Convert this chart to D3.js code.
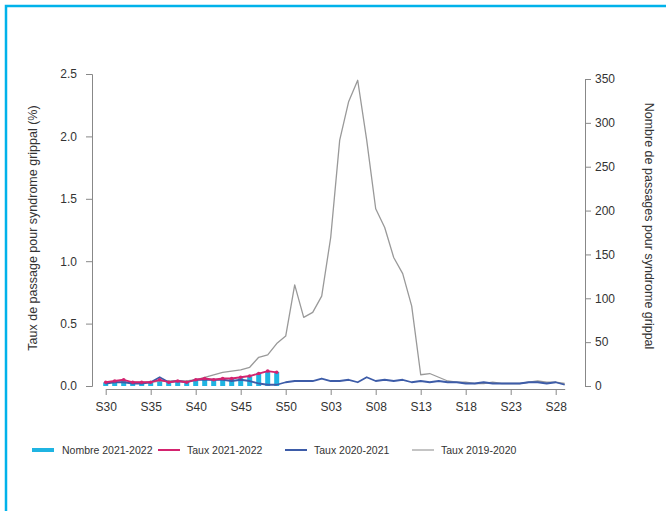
<!DOCTYPE html>
<head>
<meta charset="utf-8">
<script src="https://d3js.org/d3.v7.min.js"></script>
<style>
    body { margin: 0; background: #fff; }
    svg { font-family: "Liberation Sans", Arial, sans-serif; }
    .axis path, .axis line { stroke: #888; }
    .axis text { fill: #333; font-size: 12px; }
    .title { fill: #333; font-size: 12.5px; }
    .legend text { fill: #333; font-size: 10.5px; }
</style>
</head>
<body>
<svg id="chart"></svg>
<script>
    // weeks S30 (2021) -> S29 (2022)
    var weeks = ["S30","S31","S32","S33","S34","S35","S36","S37","S38","S39","S40","S41","S42","S43","S44","S45","S46","S47","S48","S49","S50","S51","S52",
        "S01","S02","S03","S04","S05","S06","S07","S08","S09","S10","S11","S12","S13","S14","S15","S16","S17","S18","S19","S20","S21","S22","S23","S24","S25","S26","S27","S28","S29"];
    var tickWeeks = ["S30","S35","S40","S45","S50","S03","S08","S13","S18","S23","S28"];

    // Nombre 2021-2022 (right axis), S30 -> S49
    var nombre2122 = [4, 5, 6, 5, 4, 4, 6, 5, 6, 5, 7, 8, 8, 8, 9, 9, 11, 15, 17, 16];
    // Taux 2021-2022 (%), S30 -> S49
    var taux2122 = [0.03, 0.04, 0.05, 0.03, 0.03, 0.03, 0.05, 0.03, 0.04, 0.03, 0.05, 0.06, 0.05, 0.06, 0.06, 0.07, 0.08, 0.10, 0.12, 0.11];
    // Taux 2020-2021 (%)
    var taux2021 = [0.02, 0.03, 0.03, 0.02, 0.02, 0.03, 0.07, 0.03, 0.04, 0.03, 0.05, 0.05, 0.05, 0.05, 0.04, 0.05, 0.04, 0.02, 0.01, 0.01, 0.03, 0.04, 0.04,
        0.04, 0.06, 0.04, 0.04, 0.05, 0.03, 0.07, 0.04, 0.05, 0.04, 0.05, 0.03, 0.04, 0.03, 0.04, 0.03, 0.03, 0.02, 0.02, 0.03, 0.02, 0.02, 0.02, 0.02, 0.03, 0.03, 0.02, 0.03, 0.01];
    // Taux 2019-2020 (%)
    var taux1920 = [0.03, 0.03, 0.03, 0.03, 0.03, 0.03, 0.04, 0.04, 0.04, 0.04, 0.05, 0.07, 0.09, 0.11, 0.12, 0.13, 0.15, 0.23, 0.25, 0.34, 0.40, 0.81, 0.55,
        0.59, 0.72, 1.19, 1.97, 2.28, 2.45, 1.97, 1.42, 1.27, 1.03, 0.90, 0.64, 0.09, 0.10, 0.07, 0.04, 0.03, 0.03, 0.02, 0.02, 0.03, 0.02, 0.02, 0.02, 0.03, 0.04, 0.03, 0.03, 0.02];

    var legendItems = [
        {label: "Nombre 2021-2022", color: "#1fb4e2", w: 4},
        {label: "Taux 2021-2022", color: "#d4236f", w: 2},
        {label: "Taux 2020-2021", color: "#3d5ca8", w: 2},
        {label: "Taux 2019-2020", color: "#b0b0b0", w: 1.5}
    ];

    var width = 666, height = 511;

    var svg = d3.select("#chart")
        .attr("width", width)
        .attr("height", height);

    // blue frame (right/bottom edges lie outside the picture)
    svg.append("rect")
        .attr("x", 6).attr("y", 6)
        .attr("width", 700).attr("height", 600)
        .attr("fill", "none")
        .attr("stroke", "#00b2ea")
        .attr("stroke-width", 2.5);

    var x = d3.scalePoint()
        .domain(weeks)
        .range([105.7, 564.7]);

    var yL = d3.scaleLinear().domain([0, 2.5]).range([386, 74]);
    var yR = d3.scaleLinear().domain([0, 350]).range([386, 79]);

    // axes
    svg.append("g")
        .attr("class", "axis")
        .attr("transform", "translate(0,389)")
        .call(d3.axisBottom(x).tickValues(tickWeeks).tickSize(6).tickSizeOuter(0))
        .call(g => g.selectAll("text").attr("dy", "1.1em"));

    svg.append("g")
        .attr("class", "axis")
        .attr("transform", "translate(92,0)")
        .call(d3.axisLeft(yL).ticks(5).tickFormat(d3.format(".1f")).tickSize(6).tickSizeOuter(6).tickPadding(9));

    svg.append("g")
        .attr("class", "axis")
        .attr("transform", "translate(585,0)")
        .call(d3.axisRight(yR).tickValues(d3.range(0, 351, 50)).tickSize(6).tickSizeOuter(6).tickPadding(4));

    svg.append("text")
        .attr("class", "title")
        .attr("transform", "translate(37,228) rotate(-90)")
        .attr("text-anchor", "middle")
        .text("Taux de passage pour syndrome grippal (%)");

    svg.append("text")
        .attr("class", "title")
        .attr("transform", "translate(645,226) rotate(90)")
        .attr("text-anchor", "middle")
        .text("Nombre de passages pour syndrome grippal");

    // bars
    svg.append("g").selectAll("rect")
        .data(nombre2122)
        .enter().append("rect")
        .attr("x", (d, i) => x(weeks[i]) - 2.5)
        .attr("width", 5)
        .attr("y", d => yR(d))
        .attr("height", d => yR(0) - yR(d))
        .attr("fill", "#1fb4e2");

    function drawLine(values, color, w) {
        var line = d3.line()
            .x((d, i) => x(weeks[i]))
            .y(d => yL(d));
        svg.append("path")
            .datum(values)
            .attr("d", line)
            .attr("fill", "none")
            .attr("stroke", color)
            .attr("stroke-width", w)
            .attr("stroke-linejoin", "round");
    }

    drawLine(taux1920, "#999", 1.3);
    drawLine(taux2021, "#3d5ca8", 1.8);
    drawLine(taux2122, "#d4236f", 1.8);

    svg.append("g").selectAll("circle")
        .data(taux2122)
        .enter().append("circle")
        .attr("cx", (d, i) => x(weeks[i]))
        .attr("cy", d => yL(d))
        .attr("r", 1.8)
        .attr("fill", "#d4236f");

    // legend
    var legendX = [32, 158, 285, 412];
    var legend = svg.append("g").attr("class", "legend");
    legendItems.forEach(function(d, i) {
        legend.append("line")
            .attr("x1", legendX[i]).attr("x2", legendX[i] + 22)
            .attr("y1", 450).attr("y2", 450)
            .attr("stroke", d.color)
            .attr("stroke-width", d.w);
        legend.append("text")
            .attr("x", legendX[i] + (i === 0 ? 30 : 29))
            .attr("y", 450)
            .attr("dy", "0.35em")
            .text(d.label);
    });
</script>
</body>
